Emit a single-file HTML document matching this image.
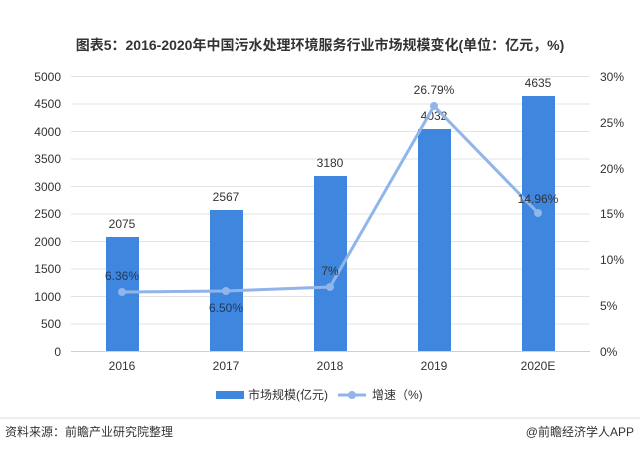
<!DOCTYPE html><html><head><meta charset="utf-8"><style>body{margin:0;background:#fff}svg text{font-family:"Liberation Sans","Noto Sans CJK SC",sans-serif}</style></head><body>
<svg width="640" height="449" xmlns="http://www.w3.org/2000/svg">
<text x="320" y="50" text-anchor="middle" font-size="14" font-weight="bold" fill="#333">图表5：2016-2020年中国污水处理环境服务行业市场规模变化(单位：亿元，%)</text>
<g stroke="#e3e3e3" stroke-width="1">
<line x1="71" x2="590" y1="76.5" y2="76.5"/><line x1="71" x2="590" y1="104" y2="104"/><line x1="71" x2="590" y1="131.5" y2="131.5"/><line x1="71" x2="590" y1="159" y2="159"/><line x1="71" x2="590" y1="186.5" y2="186.5"/><line x1="71" x2="590" y1="214" y2="214"/><line x1="71" x2="590" y1="241.5" y2="241.5"/><line x1="71" x2="590" y1="269" y2="269"/><line x1="71" x2="590" y1="296.5" y2="296.5"/><line x1="71" x2="590" y1="324" y2="324"/></g>
<line x1="71" x2="590" y1="351.5" y2="351.5" stroke="#d0d0d0"/>
<g font-size="12" fill="#333" text-anchor="end">
<text x="61" y="81">5000</text><text x="61" y="108">4500</text><text x="61" y="136">4000</text><text x="61" y="163">3500</text><text x="61" y="191">3000</text><text x="61" y="218">2500</text><text x="61" y="246">2000</text><text x="61" y="273">1500</text><text x="61" y="301">1000</text><text x="61" y="328">500</text><text x="61" y="356">0</text></g>
<g font-size="12" fill="#333">
<text x="600" y="81">30%</text><text x="600" y="127">25%</text><text x="600" y="173">20%</text><text x="600" y="218">15%</text><text x="600" y="264">10%</text><text x="600" y="310">5%</text><text x="600" y="356">0%</text></g>
<g fill="#3f86de">
<rect x="106" y="237" width="33" height="114"/><rect x="210" y="210" width="33" height="141"/><rect x="314" y="176" width="33" height="175"/><rect x="418" y="129" width="33" height="222"/><rect x="522" y="96" width="33" height="255"/></g>
<g font-size="12" fill="#333" text-anchor="middle">
<text x="122" y="228">2075</text><text x="226" y="201">2567</text><text x="330" y="167">3180</text><text x="434" y="120">4032</text><text x="538" y="87">4635</text>
<text x="122" y="370">2016</text><text x="226" y="370">2017</text><text x="330" y="370">2018</text><text x="434" y="370">2019</text><text x="538" y="370">2020E</text></g>
<polyline points="122,292 226,291 330,287 434,106 538,213" fill="none" stroke="#8fb5ea" stroke-width="3"/>
<g fill="#8fb5ea"><circle cx="122" cy="292" r="4"/><circle cx="226" cy="291" r="4"/><circle cx="330" cy="287" r="4"/><circle cx="434" cy="106" r="4"/><circle cx="538" cy="213" r="4"/></g>
<g font-size="12" fill="#333" text-anchor="middle">
<text x="122" y="280" fill="#1f3a60">6.36%</text><text x="226" y="312" fill="#1f3a60">6.50%</text><text x="330" y="275">7%</text><text x="434" y="94">26.79%</text><text x="538" y="203">14.96%</text></g>
<rect x="216" y="391" width="28" height="8" fill="#3f86de"/>
<text x="248" y="399" font-size="12" fill="#333">市场规模(亿元)</text>
<line x1="338" x2="366" y1="395" y2="395" stroke="#8fb5ea" stroke-width="3"/><circle cx="352" cy="395" r="4" fill="#8fb5ea"/>
<text x="372" y="399" font-size="12" fill="#333">增速（%)</text>
<line x1="0" x2="640" y1="418" y2="418" stroke="#ddd"/>
<text x="5" y="436" font-size="12" fill="#333">资料来源：前瞻产业研究院整理</text>
<text x="634" y="436" font-size="12" fill="#333" text-anchor="end">@前瞻经济学人APP</text>
</svg></body></html>
